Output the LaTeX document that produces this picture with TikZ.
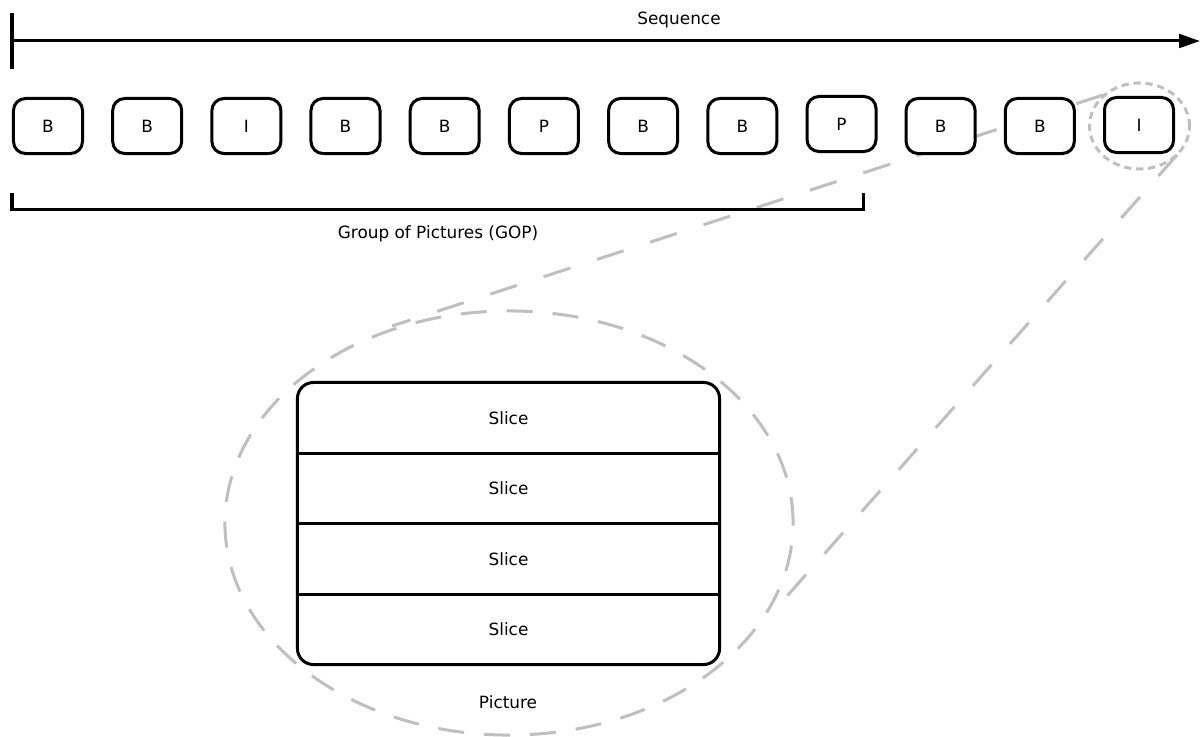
\documentclass[tikz,border=0pt]{standalone}
\usepackage{fontspec}
\setmainfont{DejaVu Sans}
\usetikzlibrary{arrows.meta}
\begin{document}
\begin{tikzpicture}[x=0.025cm,y=-0.025cm,
  every node/.style={font=\fontsize{12pt}{14pt}\selectfont},
  frame/.style={draw=black,line width=0.075cm,rounded corners=0.3cm,fill=white,
    minimum width=1.725cm,minimum height=1.375cm,inner sep=0pt},
  blk/.style={draw=black,line width=0.075cm},
  zoomline/.style={draw=black!25,line width=0.075cm,dash pattern=on 0.7cm off 0.7cm},
  zoomell/.style={draw=black!25,line width=0.075cm,dash pattern=on 0.65cm off 0.5cm},
  focus/.style={draw=black!25,line width=0.075cm,dash pattern=on 0.18cm off 0.12cm},
  slice/.style={minimum width=10.55cm,minimum height=1.7625cm,inner sep=0pt}
]
\useasboundingbox (0,0) rectangle (1200,736);

% zoom lines (behind the frames)
\coordinate (ua) at (1103,95);
\coordinate (ub) at (392,326);
\coordinate (la) at (1177,155);
\coordinate (lb) at (780,604);
\draw[zoomline] (ua) -- (ub);
\draw[zoomline] (la) -- (lb);

% sequence axis
\coordinate (seqstart) at (12,41);
\coordinate (seqend) at (1200,41);
\coordinate (tickt) at (12,13);
\coordinate (tickb) at (12,69);
\draw[blk,-{Triangle[length=0.52cm,width=0.34cm]}] (seqstart) -- (seqend);
\draw[blk] (tickt) -- (tickb);
\node (seq) at (679,20) {Sequence};

% focus circle around last frame
\draw[focus] (1139.5,126) ellipse [x radius=1.25cm, y radius=1.075cm];

% frames
\node[frame] (f1)  at (48,126)     {B};
\node[frame] (f2)  at (147.2,126)  {B};
\node[frame] (f3)  at (246.4,126)  {I};
\node[frame] (f4)  at (345.5,126)  {B};
\node[frame] (f5)  at (444.7,126)  {B};
\node[frame] (f6)  at (543.9,126)  {P};
\node[frame] (f7)  at (643.1,126)  {B};
\node[frame] (f8)  at (742.3,126)  {B};
\node[frame] (f9)  at (841.5,124)  {P};
\node[frame] (f10) at (940.6,126)  {B};
\node[frame] (f11) at (1039.8,126) {B};
\node[frame] (f12) at (1139,125)   {I};

% GOP bracket
\coordinate (ga) at (12,193);
\coordinate (gb) at (12,209);
\coordinate (gc) at (863,209);
\coordinate (gd) at (863,193);
\draw[blk] (ga) -- (gb) -- (gc) -- (gd);
\node (gop) at (438,234) {Group of Pictures (GOP)};

% big zoom ellipse
\draw[zoomell] (509,523) ellipse [x radius=7.1cm, y radius=5.3cm];

% picture with slices
\node[blk,rounded corners=0.4cm,fill=white,minimum width=10.55cm,minimum height=7.05cm,inner sep=0pt] (pic) at (508.5,523.5) {};
\node[slice] (s1) at (508.5,417.75) {Slice};
\node[slice] (s2) at (508.5,488.25) {Slice};
\node[slice] (s3) at (508.5,558.75) {Slice};
\node[slice] (s4) at (508.5,629.25) {Slice};
\draw[blk] (s1.south west) -- (s1.south east);
\draw[blk] (s2.south west) -- (s2.south east);
\draw[blk] (s3.south west) -- (s3.south east);
\node (piclabel) at (508,702) {Picture};
\end{tikzpicture}
\end{document}
